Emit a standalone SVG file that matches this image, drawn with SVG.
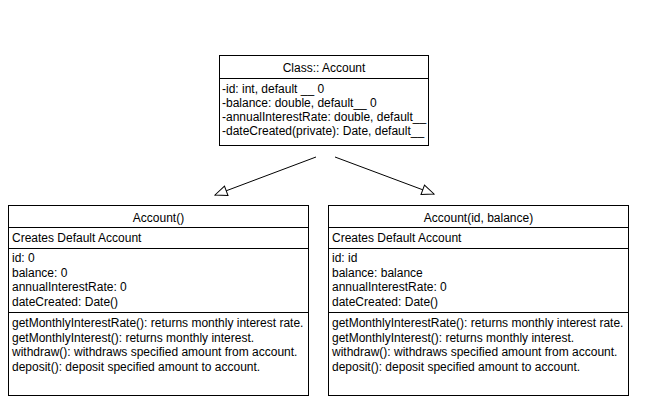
<svg xmlns="http://www.w3.org/2000/svg" width="646" height="410" viewBox="0 0 646 410">
  <style>
    .box { fill: #ffffff; stroke: #000000; stroke-width: 1; }
    .sep { stroke: #000000; stroke-width: 1; }
    .t { font-family: "Liberation Sans", Arial, Helvetica, sans-serif; font-size: 12px; fill: #000000; }
    .c { text-anchor: middle; }
    .edge { fill: none; stroke: #000000; stroke-width: 1; }
  </style>
  <defs>
    <marker id="inherit" viewBox="0 0 14 12" refX="13" refY="6" markerWidth="14" markerHeight="12" markerUnits="userSpaceOnUse" orient="auto">
      <path d="M1,1 L13,6 L1,11 Z" fill="#ffffff" stroke="#000000" stroke-width="1"/>
    </marker>
  </defs>
  <rect width="646" height="410" fill="#ffffff"/>

  <g id="connectors">
    <line class="edge" x1="316" y1="157" x2="215" y2="195" marker-end="url(#inherit)"/>
    <line class="edge" x1="335" y1="157" x2="434" y2="194" marker-end="url(#inherit)"/>
  </g>

  <g id="class-account">
    <rect class="box" x="219.5" y="55.5" width="209" height="90"/>
    <line class="sep" x1="219.5" y1="78.5" x2="428.5" y2="78.5"/>
    <text class="t c" x="324" y="72">Class:: Account</text>
    <text class="t" x="222" y="93">-id: int, default __ 0</text>
    <text class="t" x="222" y="107">-balance: double, default__ 0</text>
    <text class="t" x="222" y="121">-annualInterestRate: double, default__</text>
    <text class="t" x="222" y="135">-dateCreated(private): Date, default__</text>
  </g>

  <g id="ctor-default">
    <rect class="box" x="8.5" y="205.5" width="300" height="190"/>
    <line class="sep" x1="8.5" y1="227.5" x2="308.5" y2="227.5"/>
    <line class="sep" x1="8.5" y1="248.5" x2="308.5" y2="248.5"/>
    <line class="sep" x1="8.5" y1="312.5" x2="308.5" y2="312.5"/>
    <text class="t c" x="158.5" y="222">Account()</text>
    <text class="t" x="12" y="242">Creates Default Account</text>
    <text class="t" x="12" y="262">id: 0</text>
    <text class="t" x="12" y="276.5">balance: 0</text>
    <text class="t" x="12" y="291">annualInterestRate: 0</text>
    <text class="t" x="12" y="305.5">dateCreated: Date()</text>
    <text class="t" x="12" y="327">getMonthlyInterestRate(): returns monthly interest rate.</text>
    <text class="t" x="12" y="341.5">getMonthlyInterest(): returns monthly interest.</text>
    <text class="t" x="12" y="356">withdraw(): withdraws specified amount from account.</text>
    <text class="t" x="12" y="370.5">deposit(): deposit specified amount to account.</text>
  </g>

  <g id="ctor-id-balance">
    <rect class="box" x="328.5" y="205.5" width="300" height="190"/>
    <line class="sep" x1="328.5" y1="227.5" x2="628.5" y2="227.5"/>
    <line class="sep" x1="328.5" y1="248.5" x2="628.5" y2="248.5"/>
    <line class="sep" x1="328.5" y1="312.5" x2="628.5" y2="312.5"/>
    <text class="t c" x="478.5" y="222">Account(id, balance)</text>
    <text class="t" x="332" y="242">Creates Default Account</text>
    <text class="t" x="332" y="262">id: id</text>
    <text class="t" x="332" y="276.5">balance: balance</text>
    <text class="t" x="332" y="291">annualInterestRate: 0</text>
    <text class="t" x="332" y="305.5">dateCreated: Date()</text>
    <text class="t" x="332" y="327">getMonthlyInterestRate(): returns monthly interest rate.</text>
    <text class="t" x="332" y="341.5">getMonthlyInterest(): returns monthly interest.</text>
    <text class="t" x="332" y="356">withdraw(): withdraws specified amount from account.</text>
    <text class="t" x="332" y="370.5">deposit(): deposit specified amount to account.</text>
  </g>
</svg>
